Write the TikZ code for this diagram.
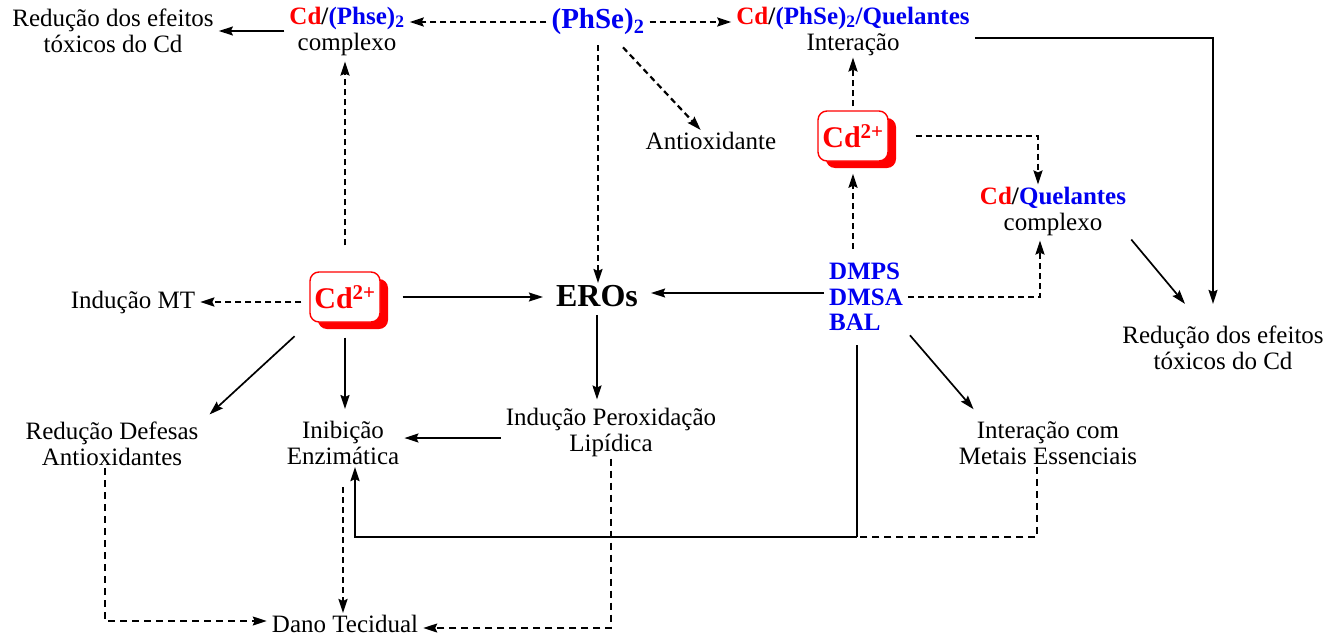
\documentclass[tikz,border=0pt]{standalone}
\usepackage{fontspec}
\setmainfont{Liberation Serif}
\usetikzlibrary{arrows.meta,shadows}
\definecolor{cdred}{RGB}{255,0,0}
\definecolor{qblue}{RGB}{0,0,240}
\newcommand{\cdtxt}{\textcolor{cdred}{\textbf{Cd}}}
\newcommand{\phsetxt}[1]{\textcolor{qblue}{\textbf{(#1)\textsubscript{2}}}}

\begin{document}
\begin{tikzpicture}[x=1pt,y=-1pt,
  lbl/.style={align=center,font=\fontsize{25}{26}\selectfont,inner xsep=5pt,inner ysep=2pt},
  blu/.style={lbl,text=qblue,font=\fontsize{25}{25.5}\selectfont\bfseries},
  cdbox/.style={draw=cdred,fill=white,line width=1.4pt,rounded corners=9pt,
    minimum width=70pt,minimum height=50pt,inner sep=3pt,text=cdred,
    font=\fontsize{30}{32}\selectfont\bfseries,
    drop shadow={fill=cdred,opacity=1,shadow xshift=8pt,shadow yshift=-7pt}},
  arr/.style={-{Stealth[length=14pt,width=9pt,inset=2pt]},line width=1.7pt},
  darr/.style={arr,line width=2.2pt,dash pattern=on 6pt off 4pt},
  tdash/.style={line width=1.4pt,dash pattern=on 7pt off 5pt},
  tarr/.style={arr,tdash}]
\useasboundingbox (0,0) rectangle (1341,637);

% top row
\node[lbl] (red1) at (113,31) {Redução dos efeitos\\tóxicos do Cd};
\node[lbl] (cdphse) at (347,31) {\cdtxt\textbf{/}\phsetxt{Phse}\\complexo};
\node[lbl,text=qblue,font=\fontsize{29}{30}\selectfont\bfseries] (phse) at (598,22) {(PhSe)\textsubscript{2}};
\node[lbl] (cdphseq) at (853,31) {\cdtxt\textbf{/}\textcolor{qblue}{\textbf{(PhSe)\textsubscript{2}/Quelantes}}\\Interação};
\node[lbl] (antiox) at (711,141) {Antioxidante};

% middle
\node[cdbox] (cdB) at (853,136) {Cd\textsuperscript{2+}};
\node[lbl] (cdq) at (1053,211) {\cdtxt\textbf{/}\textcolor{qblue}{\textbf{Quelantes}}\\complexo};
\node[lbl] (mt) at (133,302) {Indução MT};
\node[cdbox] (cdA) at (345,297) {Cd\textsuperscript{2+}};
\node[lbl,font=\fontsize{32}{34}\selectfont\bfseries] (eros) at (597,296) {EROs};
\node[blu,align=left] (quel) at (866,297) {DMPS\\DMSA\\BAL};
\node[lbl] (red2) at (1223,348) {Redução dos efeitos\\tóxicos do Cd};

% lower row
\node[lbl] (redDef) at (112,444) {Redução Defesas\\Antioxidantes};
\node[lbl] (inib) at (343,443) {Inibição\\Enzimática};
\node[lbl] (perox) at (611,432) {Indução Peroxidação\\Lipídica};
\node[lbl] (intMet) at (1048,443) {Interação com\\Metais Essenciais};
\node[lbl] (dano) at (345,624) {Dano Tecidual};
\coordinate (j) at (857,537);

% (PhSe)2
\draw[darr] (phse.west) -- (phse.west -| cdphse.east);
\draw[arr] (cdphse.west) -- (red1.east);
\draw[darr] (phse.east) -- (phse.east -| cdphseq.west);
\draw[darr,shorten <=8pt] (phse.south) -- (phse.south |- eros.north);
\draw[darr] ([xshift=25pt,yshift=-10pt]phse.south) -- (antiox);

% quelantes
\draw[darr,shorten <=4pt] (cdB) -- (cdphseq);
\draw[darr] ([xshift=27pt]cdB.east) -| ([xshift=-15pt]cdq.north);
\draw[darr] ([yshift=12pt]quel.north -| cdB.south) -- ([yshift=-12pt]cdB.south);
\draw[darr] (quel.east) -| ([xshift=-13pt,yshift=-3pt]cdq.south);
\draw[arr] ([yshift=-7pt]cdphseq.east) -| ([xshift=-10pt,yshift=20pt]red2.north);
\draw[arr] ([yshift=-2pt]cdq.south east) -- ([xshift=-38pt,yshift=20pt]red2.north);
\draw[arr] ([yshift=4pt]quel.west) -- ([yshift=4pt,xshift=8pt]quel.west -| eros.east);
\draw[arr,shorten <=3pt] (quel.south east) -- ([xshift=20pt,yshift=10pt]intMet.north west);

% Cd
\draw[arr,shorten <=22pt,shorten >=8pt] (cdA.east) -- (cdA.east -| eros.west);
\draw[darr,shorten <=26pt,shorten >=4pt] (cdA.north) -- (cdA.north |- cdphse.south);
\draw[darr,shorten <=8pt] (mt.east -| cdA.west) -- (mt.east);
\draw[arr,shorten <=20pt,shorten >=8pt] (cdA.south west) -- (redDef.north east);
\draw[arr,shorten <=15pt,shorten >=10pt] (cdA.south) -- (cdA.south |- inib.north);
\draw[arr,shorten <=6pt,shorten >=6pt] (eros.south) -- (eros.south |- perox.north);
\draw[arr] ([yshift=-6pt]perox.west) -- ([yshift=-6pt]perox.west -| inib.east);

% dano
\draw[line width=1.3pt] ([yshift=-12pt]quel.south -| j) -- (j);
\draw[arr,line width=2.6pt] (j) -| ([xshift=12pt]inib.south);
\draw[tdash] ([xshift=-11pt]intMet.south) |- (j);
\draw[tarr] ([xshift=-7pt]redDef.south) |- ([yshift=3pt]dano.west);
\draw[darr,shorten <=20pt] (inib.south) -- (inib.south |- dano.north);
\draw[tarr] (perox.south) |- ([yshift=-4pt]dano.east);
\end{tikzpicture}
\end{document}
